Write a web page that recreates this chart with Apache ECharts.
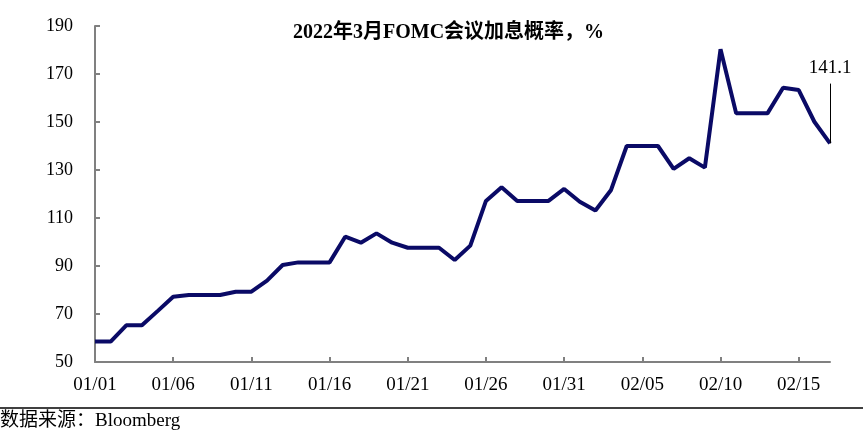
<!DOCTYPE html>
<html>
<head>
<meta charset="utf-8">
<script src="https://cdn.jsdelivr.net/npm/echarts@6/dist/echarts.min.js"></script>
<style>html,body{margin:0;padding:0;background:#fff;}#c{width:863px;height:439px;}</style>
</head>
<body>
<div id="c"></div>
<script>
const dates = ['01/01','01/02','01/03','01/04','01/05','01/06','01/07','01/08','01/09','01/10',
  '01/11','01/12','01/13','01/14','01/15','01/16','01/17','01/18','01/19','01/20',
  '01/21','01/22','01/23','01/24','01/25','01/26','01/27','01/28','01/29','01/30',
  '01/31','02/01','02/02','02/03','02/04','02/05','02/06','02/07','02/08','02/09',
  '02/10','02/11','02/12','02/13','02/14','02/15','02/16','02/17'];
const probs = [58.5,58.5,65.3,65.3,71.2,77.2,77.9,77.9,77.9,79.3,
  79.3,83.9,90.4,91.5,91.5,91.5,102.2,99.7,103.6,99.7,
  97.6,97.6,97.6,92.5,98.5,117.1,122.8,117.1,117.1,117.1,
  122.1,116.8,113.1,121.7,140,140,140,130.5,134.9,131,
  180.3,153.6,153.6,153.6,164.3,163.3,150.1,141.1];
const yTicks = {min:50, max:190, interval:20};
const titleText = '2022年3月FOMC会议加息概率，%';
const sourceText = '数据来源：Bloomberg';
const lastLabel = '141.1';

const serif = '"Liberation Serif","Noto Sans CJK SC",serif';
const chart = echarts.init(document.getElementById('c'));
chart.setOption({
  animation:false,
  backgroundColor:'#fff',
  title:{text:titleText,left:288,top:18,textStyle:{fontFamily:serif,fontSize:20,fontWeight:'bold',color:'#000'}},
  grid:{left:95,right:33,top:26,bottom:77,containLabel:false},
  xAxis:{type:'category',data:dates,boundaryGap:false,
    axisLine:{lineStyle:{color:'#808080',width:2}},
    axisTick:{inside:true,length:5,interval:4,lineStyle:{color:'#808080',width:2}},
    axisLabel:{interval:4,margin:14,fontFamily:serif,fontSize:19,color:'#000'},
    splitLine:{show:false}},
  yAxis:{type:'value',min:yTicks.min,max:yTicks.max,interval:yTicks.interval,
    axisLine:{show:true,lineStyle:{color:'#808080',width:2}},
    axisTick:{show:true,inside:true,length:5,lineStyle:{color:'#808080',width:2}},
    axisLabel:{margin:22,fontFamily:serif,fontSize:18,color:'#000'},
    splitLine:{show:false}},
  series:[{type:'line',data:probs,symbol:'none',
    lineStyle:{color:'#0a0a66',width:4},
    markLine:{silent:true,symbol:['none','none'],
      lineStyle:{color:'#000',width:1,type:'solid'},
      label:{show:true,position:'end',formatter:lastLabel,fontFamily:serif,fontSize:19,color:'#000',distance:6},
      data:[[{coord:[dates[dates.length-1],probs[probs.length-1]]},{coord:[dates[dates.length-1],166]}]]}
  }],
  graphic:[
    {type:'line',shape:{x1:0,y1:408,x2:863,y2:408},style:{stroke:'#000',lineWidth:1.5}},
    {type:'text',left:0,top:412,style:{text:sourceText,font:'19px '+serif,fill:'#000'}}
  ]
});
</script>
</body>
</html>
